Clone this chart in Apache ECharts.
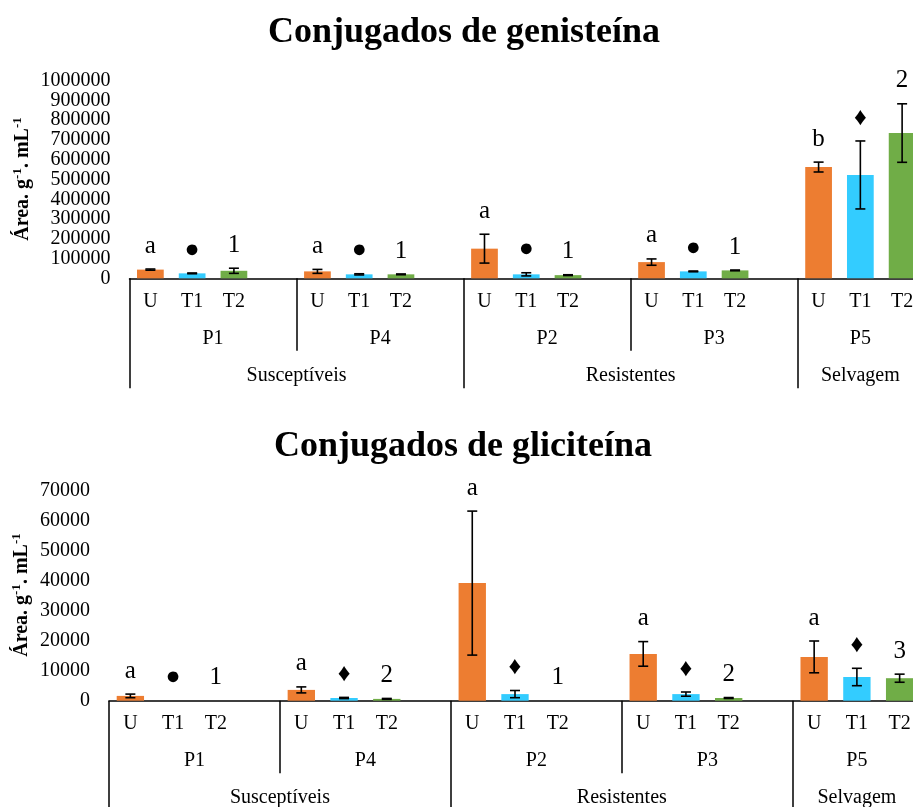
<!DOCTYPE html>
<html>
<head>
<meta charset="utf-8">
<script src="https://cdn.jsdelivr.net/npm/echarts@6/dist/echarts.min.js"></script>
<style>
html,body{margin:0;padding:0;background:#fff;}
#c{width:913px;height:807px;}
</style>
</head>
<body>
<div id="c"></div>
<script>
// ---------- data ----------
const groups = ['P1', 'P4', 'P2', 'P3', 'P5'];
const treatments = ['U', 'T1', 'T2'];
const outerGroups = ['Susceptíveis', 'Resistentes', 'Selvagem'];
const outerSizes = [2, 2, 1]; // number of P groups in each outer group

const titles = ['Conjugados de genisteína', 'Conjugados de gliciteína'];

// Genisteína
const genU = [44000, 35000, 150000, 82000, 563000];
const genUErr = [3000, 10000, 73000, 16000, 25000];
const genT1 = [25000, 20000, 20000, 35000, 523000];
const genT1Err = [2000, 3000, 8000, 2000, 172000];
const genT2 = [38000, 20000, 16000, 40000, 735000];
const genT2Err = [13000, 2000, 2000, 2000, 148000];
const genLabelsU = ['a', 'a', 'a', 'a', 'b'];
const genLabelsT1 = ['●', '●', '●', '●', '♦'];
const genLabelsT2 = ['1', '1', '1', '1', '2'];
const genTicks = [0, 100000, 200000, 300000, 400000, 500000, 600000, 700000, 800000, 900000, 1000000];

// Gliciteína
const gliU = [1600, 3600, 39200, 15600, 14600];
const gliUErr = [600, 1000, 24000, 4100, 5300];
const gliT1 = [0, 900, 2200, 2200, 7900];
const gliT1Err = [0, 200, 1200, 700, 2900];
const gliT2 = [0, 600, 0, 900, 7500];
const gliT2Err = [0, 150, 0, 150, 1350];
const gliLabelsU = ['a', 'a', 'a', 'a', 'a'];
const gliLabelsT1 = ['●', '♦', '♦', '♦', '♦'];
const gliLabelsT2 = ['1', '2', '1', '2', '3'];
const gliTicks = [0, 10000, 20000, 30000, 40000, 50000, 60000, 70000];

const colors = ['#ED7D31', '#33CCFF', '#70AD47'];

// ---------- build ----------
const FONT = "'Liberation Serif', 'Times New Roman', serif";
const SLOTS = treatments.length + 1; // an empty slot separates the groups
const slotLabels = [];
groups.forEach((g, gi) => {
  treatments.forEach(t => slotLabels.push(t));
  if (gi < groups.length - 1) slotLabels.push('');
});
const nSlots = slotLabels.length;

// group boundaries / centers in slot units
const groupTicks = [], groupCenters = [];
groups.forEach((g, gi) => {
  const start = gi * SLOTS;
  const end = Math.min(start + SLOTS, nSlots);
  groupTicks.push(start);
  groupCenters.push((start + end) / 2);
});
const outerTicks = [], outerCenters = [];
let acc = 0;
outerSizes.forEach(s => {
  const start = acc * SLOTS;
  const end = Math.min((acc + s) * SLOTS, nSlots);
  outerTicks.push(start);
  outerCenters.push((start + end) / 2);
  acc += s;
});

function buildSet(vals, errs, labs) {
  const bars = [], errData = [], labels = [];
  for (let i = 0; i < nSlots; i++) {
    const g = Math.floor(i / SLOTS), t = i % SLOTS;
    if (t < treatments.length) {
      bars.push({ value: vals[t][g], itemStyle: { color: colors[t] } });
      errData.push([i, vals[t][g], errs[t][g]]);
      labels.push(labs[t][g]);
    } else {
      bars.push('-');
    }
  }
  return { bars, errData, labels };
}

const sets = [
  buildSet([genU, genT1, genT2], [genUErr, genT1Err, genT2Err], [genLabelsU, genLabelsT1, genLabelsT2]),
  buildSet([gliU, gliT1, gliT2], [gliUErr, gliT1Err, gliT2Err], [gliLabelsU, gliLabelsT1, gliLabelsT2])
];
const tickSets = [genTicks, gliTicks];

const grids = [
  { left: 129.5, top: 80.7, width: 793.5, height: 197.6, outerBoundsMode: 'none' },
  { left: 109, top: 490.7, width: 812, height: 210, outerBoundsMode: 'none' }
];

function levelAxis(gi, ticks, centers, names, tickLen, margin) {
  return {
    type: 'value', gridIndex: gi, position: 'bottom', min: 0, max: nSlots,
    axisLine: { show: false, onZero: false },
    axisTick: { show: true, customValues: ticks, length: tickLen, lineStyle: { color: '#000', width: 1.5 } },
    axisLabel: {
      customValues: centers, margin, color: '#000', fontSize: 20, fontFamily: FONT,
      hideOverlap: false, showMinLabel: true, showMaxLabel: true,
      formatter: v => { const i = centers.indexOf(v); return i >= 0 ? names[i] : ''; }
    },
    splitLine: { show: false }
  };
}

// y axis labels are split over two overlapping axes so that the
// closely spaced labels are never hidden by overlap detection
function valueAxis(gi, ticks, parity) {
  return {
    type: 'value', gridIndex: gi, position: 'left', min: ticks[0], max: ticks[ticks.length - 1],
    axisLine: { show: false }, axisTick: { show: false }, splitLine: { show: false },
    axisLabel: {
      customValues: ticks.filter((t, i) => i % 2 === parity),
      margin: 19, color: '#000', fontSize: 20, fontFamily: FONT,
      hideOverlap: false, showMinLabel: true, showMaxLabel: true,
      formatter: v => String(v)
    }
  };
}

const xAxes = [], yAxes = [], series = [];
grids.forEach((gr, gi) => {
  const ticks = tickSets[gi];
  xAxes.push({
    type: 'category', gridIndex: gi, position: 'bottom', data: slotLabels,
    axisLine: { show: true, onZero: false, lineStyle: { color: '#000', width: 1.5 } },
    axisTick: { show: false },
    axisLabel: { interval: 0, margin: 13, color: '#000', fontSize: 20, fontFamily: FONT },
    splitLine: { show: false }
  });
  xAxes.push(levelAxis(gi, groupTicks, groupCenters, groups, 72.5, 50));
  xAxes.push(levelAxis(gi, outerTicks, outerCenters, outerGroups, 110, 87));
  yAxes.push(valueAxis(gi, ticks, 0));
  yAxes.push(valueAxis(gi, ticks, 1));
  const set = sets[gi];
  series.push({
    type: 'bar', xAxisIndex: gi * 3, yAxisIndex: gi * 2, data: set.bars,
    barWidth: '64%', animation: false
  });
  series.push({
    type: 'custom', xAxisIndex: gi * 3, yAxisIndex: gi * 2, data: set.errData, z: 10,
    animation: false, clip: false,
    renderItem: (params, api) => {
      const x = api.value(0), v = api.value(1), e = api.value(2);
      const top = api.coord([x, v + e]);
      const bot = api.coord([x, v - e]);
      const cap = 5;
      const children = [];
      if (e > 0) {
        const ls = { stroke: '#000', lineWidth: 1.6 };
        children.push({ type: 'line', shape: { x1: top[0], y1: top[1], x2: bot[0], y2: bot[1] }, style: ls });
        children.push({ type: 'line', shape: { x1: top[0] - cap, y1: top[1], x2: top[0] + cap, y2: top[1] }, style: ls });
        children.push({ type: 'line', shape: { x1: bot[0] - cap, y1: bot[1], x2: bot[0] + cap, y2: bot[1] }, style: ls });
      }
      children.push({
        type: 'text',
        style: {
          text: set.labels[params.dataIndex], x: top[0], y: top[1] - 23,
          align: 'center', verticalAlign: 'middle', textAlign: 'center', textVerticalAlign: 'middle',
          fill: '#000', font: '25px ' + FONT
        }
      });
      return { type: 'group', children };
    }
  });
});

const yNameRich = {
  b: { fontSize: 20, fontWeight: 'bold', fontFamily: FONT, fill: '#000', lineHeight: 22, verticalAlign: 'bottom' },
  s: { fontSize: 13, fontWeight: 'bold', fontFamily: FONT, fill: '#000', lineHeight: 13, verticalAlign: 'top' }
};
const yNameText = '{b|Área. g}{s|-1}{b|. mL}{s|-1}';

const graphic = [
  { type: 'text', x: 464, y: 33, style: { text: titles[0], font: 'bold 36px ' + FONT, fill: '#000', align: 'center', verticalAlign: 'middle' } },
  { type: 'text', x: 463, y: 446.5, style: { text: titles[1], font: 'bold 36px ' + FONT, fill: '#000', align: 'center', verticalAlign: 'middle' } },
  { type: 'text', x: 22, y: 179, rotation: Math.PI / 2, style: { text: yNameText, rich: yNameRich, align: 'center', verticalAlign: 'middle' } },
  { type: 'text', x: 21, y: 595, rotation: Math.PI / 2, style: { text: yNameText, rich: yNameRich, align: 'center', verticalAlign: 'middle' } }
];

const chart = echarts.init(document.getElementById('c'), null, { renderer: 'canvas' });
chart.setOption({
  animation: false,
  backgroundColor: '#fff',
  grid: grids,
  xAxis: xAxes,
  yAxis: yAxes,
  series,
  graphic
});
</script>
</body>
</html>
